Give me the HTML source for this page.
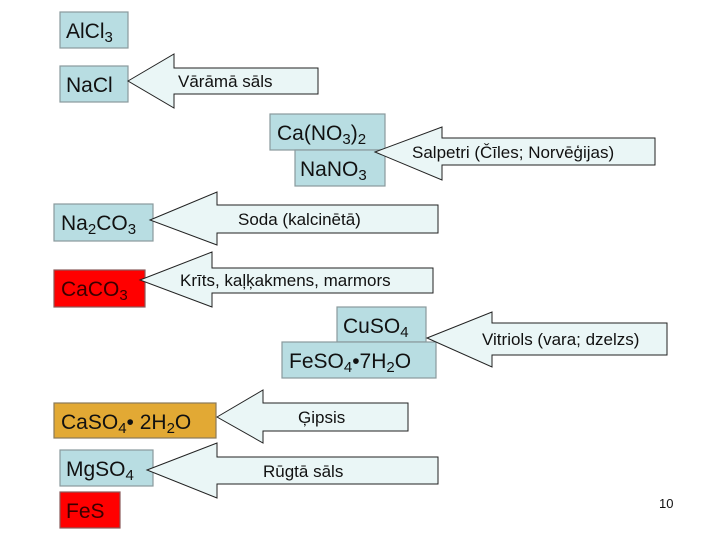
<!DOCTYPE html>
<html><head><meta charset="utf-8"><style>
body{margin:0;background:#fff}
svg{display:block}
text{font-family:"Liberation Sans",sans-serif}
.b{fill:#b8dde2;stroke:#8a9a9c;stroke-width:1.2}
.a{fill:#eaf6f6;stroke:#222;stroke-width:1}
.t{font-size:21px;fill:#111}
.l{font-size:17px;fill:#111}
</style></head><body>
<svg width="720" height="540" viewBox="0 0 720 540">
<!-- boxes -->
<rect class="b" x="60" y="12" width="68" height="36"/>
<text class="t" x="66" y="38">AlCl<tspan font-size="15" dy="4">3</tspan></text>
<rect class="b" x="60" y="66" width="68" height="36"/>
<text class="t" x="66" y="92">NaCl</text>

<rect class="b" x="270" y="114" width="115" height="36"/>
<text class="t" x="277" y="140">Ca(NO<tspan font-size="15" dy="4">3</tspan><tspan dy="-4">)</tspan><tspan font-size="15" dy="4">2</tspan></text>
<rect class="b" x="295" y="150" width="90" height="36"/>
<text class="t" x="300" y="176">NaNO<tspan font-size="15" dy="4">3</tspan></text>

<rect class="b" x="54" y="204" width="99" height="37"/>
<text class="t" x="61" y="230">Na<tspan font-size="15" dy="4">2</tspan><tspan dy="-4">CO</tspan><tspan font-size="15" dy="4">3</tspan></text>

<rect x="54" y="270" width="91" height="37" fill="#ff0000" stroke="#8a5a5a" stroke-width="1.2"/>
<text class="t" x="61" y="296" style="fill:#3a0000">CaCO<tspan font-size="15" dy="4">3</tspan></text>

<rect class="b" x="337" y="307" width="89" height="35"/>
<text class="t" x="343" y="333">CuSO<tspan font-size="15" dy="4">4</tspan></text>
<rect class="b" x="282" y="342" width="154" height="36"/>
<text class="t" x="289" y="368">FeSO<tspan font-size="15" dy="4">4</tspan><tspan dy="-4">•7H</tspan><tspan font-size="15" dy="4">2</tspan><tspan dy="-4">O</tspan></text>

<rect x="54" y="403" width="162" height="35" fill="#e2a934" stroke="#8a7a5a" stroke-width="1.2"/>
<text class="t" x="61" y="429">CaSO<tspan font-size="15" dy="4">4</tspan><tspan dy="-4">• 2H</tspan><tspan font-size="15" dy="4">2</tspan><tspan dy="-4">O</tspan></text>

<rect class="b" x="60" y="450" width="93" height="36"/>
<text class="t" x="66" y="476">MgSO<tspan font-size="15" dy="4">4</tspan></text>

<rect x="60" y="492" width="60" height="36" fill="#ff0000" stroke="#8a5a5a" stroke-width="1.2"/>
<text class="t" x="66" y="518" style="fill:#3a0000">FeS</text>

<!-- arrows -->
<polygon class="a" points="128,81 174,54 174,68 318,68 318,94 174,94 174,108"/>
<text class="l" x="178" y="87">Vārāmā sāls</text>

<polygon class="a" points="375,152 442,127 442,138 655,138 655,165 442,165 442,180"/>
<text class="l" x="412" y="158">Salpetri (Čīles; Norvēģijas)</text>

<polygon class="a" points="150,220 217,192 217,205 438,205 438,233 217,233 217,245"/>
<text class="l" x="238" y="225">Soda (kalcinētā)</text>

<polygon class="a" points="140,280 212,252 212,268 433,268 433,293 212,293 212,307"/>
<text class="l" x="180" y="286">Krīts, kaļķakmens, marmors</text>

<polygon class="a" points="427,338 492,312 492,323 667,323 667,355 492,355 492,367"/>
<text class="l" x="482" y="345">Vitriols (vara; dzelzs)</text>

<polygon class="a" points="217,417 263,390 263,403 408,403 408,431 263,431 263,443"/>
<text class="l" x="298" y="423">Ģipsis</text>

<polygon class="a" points="147,470 217,443 217,457 438,457 438,484 217,484 217,498"/>
<text class="l" x="263" y="477">Rūgtā sāls</text>

<text x="659" y="508" font-size="13" fill="#111">10</text>
</svg>
</body></html>
